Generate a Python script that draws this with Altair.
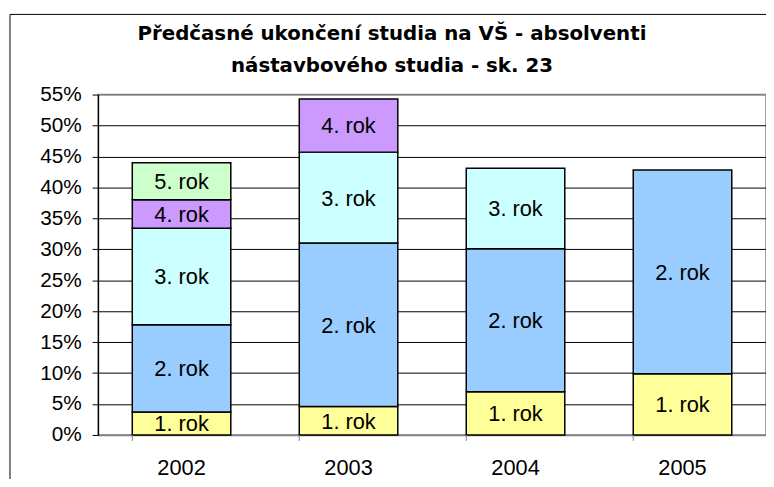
import altair as alt
import pandas as pd

years = ["2002", "2003", "2004", "2005"]
series = ["1. rok", "2. rok", "3. rok", "4. rok", "5. rok"]
r1 = [3.7, 4.6, 7.0, 9.9]
r2 = [14.1, 26.4, 23.1, 32.9]
r3 = [15.6, 14.7, 13.0, None]
r4 = [4.6, 8.6, None, None]
r5 = [6.0, None, None, None]
colors = ["#FFFF99", "#99CCFF", "#CCFFFF", "#CC99FF", "#CCFFCC"]
title_lines = ["Předčasné ukončení studia na VŠ - absolventi", "nástavbového studia - sk. 23"]
y_ticks = [round(i * 0.05, 2) for i in range(12)]

rows = []
for yi, yr in enumerate(years):
    cum = 0.0
    for si, vals in enumerate([r1, r2, r3, r4, r5]):
        v = vals[yi]
        if v is None:
            continue
        rows.append({"year": yr, "series": series[si], "order": si,
                     "value": v / 100, "mid": (cum + v / 2) / 100})
        cum += v
df = pd.DataFrame(rows)

FONT = "Liberation Sans"

xaxis = alt.Axis(labelFont=FONT, labelFontSize=22, labelColor="black",
                 labelAngle=0, ticks=False, domainColor="#808080",
                 domainWidth=1.5, labelPadding=23, title=None)
xscale = alt.Scale(paddingInner=0.41, paddingOuter=0.205)
yaxis = alt.Axis(format=".0%", values=y_ticks, labelOverlap=False,
                 labelFont=FONT, labelFontSize=21, labelColor="black",
                 tickColor="black", tickSize=6, labelPadding=11,
                 domainColor="black", domainWidth=1.2, title=None,
                 gridColor=alt.condition("datum.value >= 0.55",
                                         alt.value("#808080"), alt.value("black")),
                 gridWidth=1)
yscale = alt.Scale(domain=[0, 0.55], nice=False)

bars = alt.Chart(df).mark_bar(stroke="black", strokeWidth=1.5).encode(
    x=alt.X("year:N", sort=years, scale=xscale, axis=xaxis),
    y=alt.Y("value:Q", stack="zero", scale=yscale, axis=yaxis),
    color=alt.Color("series:N", scale=alt.Scale(domain=series, range=colors), legend=None),
    order=alt.Order("order:Q", sort="ascending"),
)

labels = alt.Chart(df).mark_text(font=FONT, fontSize=22, color="black",
                                 baseline="middle", align="center", dy=1).encode(
    x=alt.X("year:N", sort=years, scale=xscale, axis=xaxis),
    y=alt.Y("mid:Q", scale=yscale, axis=yaxis),
    text="series:N",
)

ticks = alt.Chart(pd.DataFrame({"year": years})).mark_rule(color="#808080", strokeWidth=1).encode(
    x=alt.X("year:N", sort=years, bandPosition=0, scale=xscale, axis=xaxis),
    y=alt.value(344),
    y2=alt.value(350),
)

border = alt.Chart(pd.DataFrame({"a": [1]})).mark_rect(
    filled=False, stroke="black", strokeWidth=1, clip=False).encode(
    x=alt.value(-89),
    y=alt.value(-81),
    x2=alt.value(900),
    y2=alt.value(600),
)

tdf = pd.DataFrame({"line": title_lines})
title1 = alt.Chart(tdf.iloc[[0]]).mark_text(
    font="DejaVu Sans", fontSize=20, fontWeight="bold", color="black",
    align="center", baseline="alphabetic").encode(
    text="line:N", x=alt.value(297), y=alt.value(-55))
title2 = alt.Chart(tdf.iloc[[1]]).mark_text(
    font="DejaVu Sans", fontSize=20, fontWeight="bold", color="black",
    align="center", baseline="alphabetic").encode(
    text="line:N", x=alt.value(297), y=alt.value(-23))

chart = alt.layer(bars, labels, ticks, border, title1, title2).properties(
    width=675, height=344,
    autosize=alt.AutoSizeParams(type="none"),
    padding={"left": 91, "top": 85, "right": 0, "bottom": 42},
).configure_view(stroke="#808080", strokeWidth=1.5)

chart.save("out.html", embed_options={"renderer": "svg", "actions": False})
